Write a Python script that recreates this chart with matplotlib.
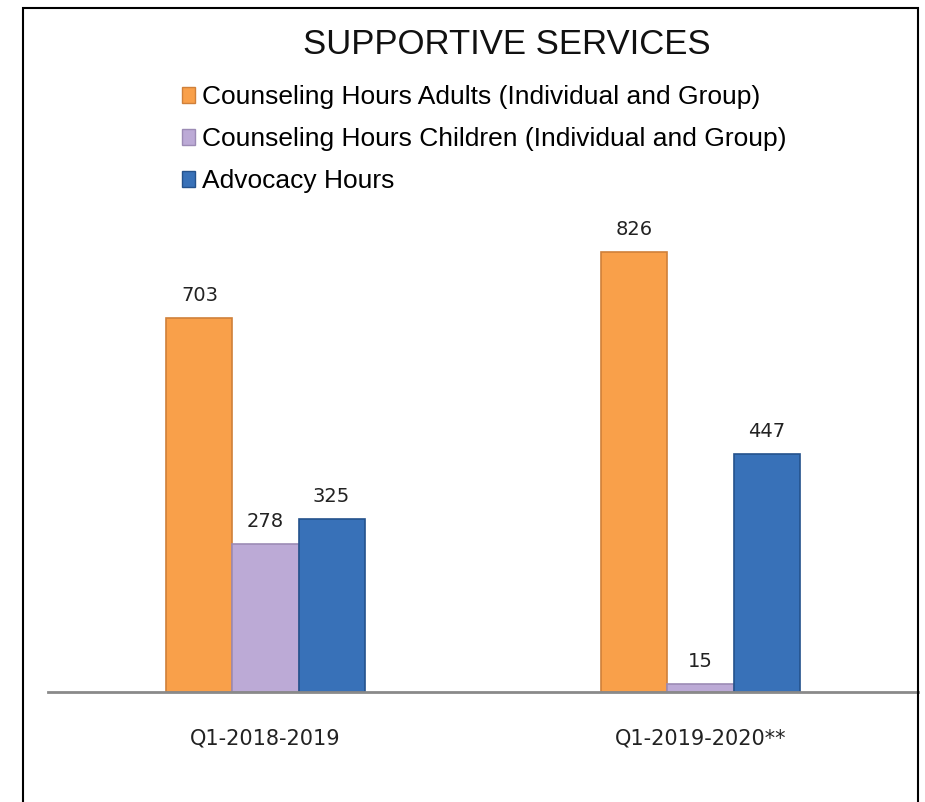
import numpy as np
import matplotlib
matplotlib.use("Agg")
import matplotlib.pyplot as plt
from matplotlib.patches import Patch, Rectangle

plt.rcParams['font.family'] = ['Liberation Sans', 'DejaVu Sans']

categories = ["Q1-2018-2019", "Q1-2019-2020**"]
series = ["Counseling Hours Adults (Individual and Group)",
          "Counseling Hours Children (Individual and Group)",
          "Advocacy Hours"]
adults = [703, 826]
children = [278, 15]
advocacy = [325, 447]

colors = ["#F9A04A", "#BCAAD6", "#3871B8"]
edges = ["#D0803A", "#9C8BB5", "#24528C"]

fig = plt.figure(figsize=(9.25, 8.02), dpi=100)
ax = fig.add_axes([48 / 925, 110 / 802, 870 / 925, 492 / 802])

x = np.arange(len(categories))
w = 0.152
for i, (vals, c, e) in enumerate(zip([adults, children, advocacy], colors, edges)):
    xs = x + (i - 1) * w
    ax.bar(xs, vals, w, color=c, edgecolor=e, linewidth=1.2, zorder=2)
    for xx, v in zip(xs, vals):
        ax.text(xx, v + 24, str(v), ha="center", va="bottom", fontsize=14,
                color="#222222", family=["DejaVu Sans"])

ax.set_xlim(-0.5, 1.5)
ax.set_ylim(0, 924)
ax.set_yticks([])
ax.set_xticks(x)
ax.set_xticklabels(categories, fontsize=15, color="#222222", family=["DejaVu Sans"])
ax.tick_params(axis="x", length=0, pad=26)
for s in ["top", "right", "left"]:
    ax.spines[s].set_visible(False)
ax.spines["bottom"].set_color("#8a8a8a")
ax.spines["bottom"].set_linewidth(2)
ax.patch.set_alpha(0)

fig.text(507 / 925, 1 - 45 / 802, "SUPPORTIVE SERVICES", ha="center", va="center",
         fontsize=25, color="#111111")

handles = [Patch(facecolor=c, edgecolor=e) for c, e in zip(colors, edges)]
fig.legend(handles, series, loc="upper left", bbox_to_anchor=(182 / 925, 1 - 85 / 802),
           frameon=False, fontsize=19, handlelength=0.5, handleheight=0.55,
           handletextpad=0.25, labelspacing=0.68, borderaxespad=0, borderpad=0)

fig.patches.append(Rectangle((23 / 925, -0.1), 895 / 925, 1.1 - 8 / 802,
                             transform=fig.transFigure, fill=False,
                             edgecolor="black", linewidth=1.5))

fig.savefig("out.png", dpi=100)
